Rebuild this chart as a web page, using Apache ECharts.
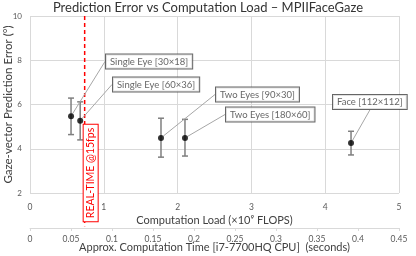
<!DOCTYPE html>
<html>
<head>
<meta charset="utf-8">
<script src="https://cdn.jsdelivr.net/npm/echarts@6/dist/echarts.min.js"></script>
<style>html,body{margin:0;padding:0;background:#fff}#c{width:416px;height:256px}</style>
</head>
<body>
<div id="c"></div>
<script>
var models = ['Single Eye [30×18]', 'Single Eye [60×36]', 'Two Eyes [90×30]', 'Two Eyes [180×60]', 'Face [112×112]'];
var loads = [0.556, 0.68, 1.775, 2.1, 4.35];
var errors = [5.47, 5.27, 4.49, 4.49, 4.26];
var errLow = [4.64, 4.40, 3.62, 3.67, 3.72];
var errHigh = [6.29, 6.12, 5.38, 5.33, 4.79];
var realTimeSec = [1 / 15];
var realTimeLabel = 'REAL-TIME @15fps';
var loadTicks = [0, 5, 1];
var timeTicks = [0, 0.45, 0.05];
var errTicks = [2, 10, 2];

// label box anchors (left-middle), pixel positions
var labelPos = [[106, 61.5], [113, 84.5], [216, 94.5], [226, 114.5], [333, 102]];
var lineBottomValue = 0.5; // dashed line extends below plot down to the time axis

var FONT = 'Lato';
var chart = echarts.init(document.getElementById('c'), null, {renderer: 'canvas'});

var scatterData = loads.map(function (x, i) { return [x, errors[i]]; });
var barData = loads.map(function (x, i) { return [x, errLow[i], errHigh[i]]; });

chart.setOption({
  animation: false,
  textStyle: {fontFamily: FONT},
  title: {
    text: 'Prediction Error vs Computation Load – MPIIFaceGaze',
    left: 'center', top: 1, padding: 0,
    textStyle: {fontFamily: FONT, fontSize: 13, fontWeight: 'normal', color: '#333'}
  },
  grid: {left: 30, right: 17, top: 16, bottom: 63, containLabel: false, outerBoundsMode: 'none'},
  xAxis: [{
    type: 'value', min: loadTicks[0], max: loadTicks[1], interval: loadTicks[2],
    position: 'bottom',
    axisLine: {show: false}, axisTick: {show: false},
    axisLabel: {fontSize: 8.5, color: '#595959', margin: 10, fontFamily: FONT},
    splitLine: {show: true, lineStyle: {color: '#d9d9d9', width: 1}},
    name: 'Computation Load (×10⁹ FLOPS)', nameLocation: 'middle', nameGap: 22, nameMoveOverlap: false,
    nameTextStyle: {fontSize: 11, color: '#404040', fontFamily: FONT}
  }, {
    type: 'value', min: timeTicks[0], max: timeTicks[1], interval: timeTicks[2],
    position: 'bottom', offset: 35,
    axisLine: {show: true, lineStyle: {color: '#d9d9d9'}},
    axisTick: {show: true, length: 3, lineStyle: {color: '#d9d9d9'}},
    axisLabel: {fontSize: 8.5, color: '#595959', margin: 7, fontFamily: FONT},
    splitLine: {show: false},
    name: 'Approx. Computation Time [i7-7700HQ CPU]  (seconds)', nameLocation: 'middle', nameGap: 14, nameMoveOverlap: false,
    nameTextStyle: {fontSize: 11, color: '#404040', fontFamily: FONT}
  }],
  yAxis: [{
    type: 'value', min: errTicks[0], max: errTicks[1], interval: errTicks[2],
    axisLine: {show: false}, axisTick: {show: false},
    axisLabel: {fontSize: 8, color: '#595959', margin: 8, fontFamily: FONT},
    splitLine: {show: true, lineStyle: {color: '#d9d9d9', width: 1}},
    name: 'Gaze-vector Prediction Error (°)', nameLocation: 'middle', nameGap: 16, nameMoveOverlap: false,
    nameTextStyle: {fontSize: 11.5, color: '#404040', fontFamily: FONT}
  }],
  series: [{
    type: 'custom',
    xAxisIndex: 0, yAxisIndex: 0,
    data: barData,
    z: 2,
    renderItem: function (params, api) {
      var x = api.value(0);
      var lo = api.coord([x, api.value(1)]);
      var hi = api.coord([x, api.value(2)]);
      var cap = 3;
      var st = {stroke: '#7f7f7f', lineWidth: 1.5};
      return {
        type: 'group',
        children: [
          {type: 'line', shape: {x1: lo[0], y1: lo[1], x2: hi[0], y2: hi[1]}, style: st},
          {type: 'line', shape: {x1: lo[0] - cap, y1: lo[1], x2: lo[0] + cap, y2: lo[1]}, style: st},
          {type: 'line', shape: {x1: hi[0] - cap, y1: hi[1], x2: hi[0] + cap, y2: hi[1]}, style: st}
        ]
      };
    }
  }, {
    type: 'custom',
    xAxisIndex: 1, yAxisIndex: 0,
    data: realTimeSec.map(function (t) { return [t]; }),
    clip: false,
    z: 3,
    renderItem: function (params, api) {
      var t = api.value(0);
      var top = api.coord([t, errTicks[1]]);
      var bot = api.coord([t, lineBottomValue]);
      return {
        type: 'group',
        children: [
          {type: 'line', shape: {x1: top[0], y1: top[1], x2: bot[0], y2: bot[1]},
           style: {stroke: '#ff0000', lineWidth: 1.5, lineDash: [4, 3]}},
          {type: 'text', x: bot[0] + 6, y: bot[1] - 5, rotation: Math.PI / 2,
           style: {text: realTimeLabel, fill: '#ff0000', font: '10.5px ' + FONT,
                   align: 'left', verticalAlign: 'middle',
                   backgroundColor: '#fff', borderColor: '#ff0000', borderWidth: 1,
                   padding: [2, 3, 1, 3]}}
        ]
      };
    }
  }, {
    type: 'scatter',
    xAxisIndex: 0, yAxisIndex: 0,
    data: scatterData,
    symbolSize: 6,
    z: 5,
    itemStyle: {color: '#000'},
    label: {
      show: true,
      position: 'right',
      formatter: function (p) { return models[p.dataIndex]; },
      fontSize: 9.5, color: '#404040', fontFamily: FONT,
      backgroundColor: '#fff', borderColor: '#404040', borderWidth: 1,
      padding: [2, 4, 2, 4]
    },
    labelLine: {show: true, lineStyle: {color: '#a6a6a6', width: 1}},
    labelLayout: function (p) {
      var pos = labelPos[p.dataIndex];
      return {x: pos[0], y: pos[1], align: 'left', verticalAlign: 'middle'};
    }
  }]
});
</script>
</body>
</html>
